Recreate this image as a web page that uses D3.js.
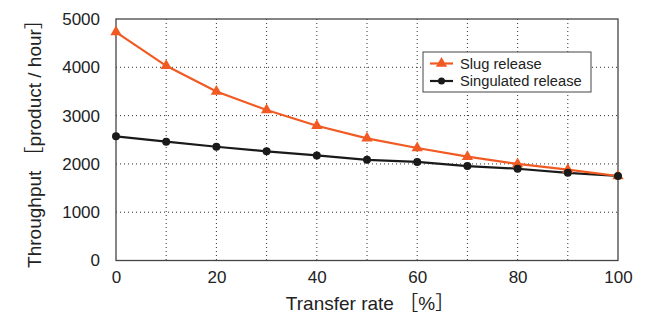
<!DOCTYPE html>
<html>
<head>
<meta charset="utf-8">
<script src="https://cdn.jsdelivr.net/npm/d3@7"></script>
<style>
  body { margin: 0; background: #fff; }
  svg { font-family: "Liberation Sans", Arial, sans-serif; }
</style>
</head>
<body>
<div id="chart"></div>
<script>
// data
var rates = [0, 10, 20, 30, 40, 50, 60, 70, 80, 90, 100];
var slug = [4730, 4030, 3500, 3115, 2790, 2530, 2330, 2150, 2000, 1880, 1750];
var singulated = [2570, 2460, 2355, 2260, 2175, 2085, 2040, 1955, 1900, 1815, 1750];
var xTicks = [0, 20, 40, 60, 80, 100];
var yTicks = [0, 1000, 2000, 3000, 4000, 5000];
var seriesNames = ['Slug release', 'Singulated release'];

var W = 661, H = 315;
var pad = {left: 116, right: 43, top: 19, bottom: 54.5};
var orange = '#f15a22', dark = '#1a1a1a';

var svg = d3.select('#chart').append('svg').attr('width', W).attr('height', H);
var g = svg.append('g').attr('transform', 'translate(' + pad.left + ',' + pad.top + ')');
var iw = W - pad.left - pad.right, ih = H - pad.top - pad.bottom;

var x = d3.scaleLinear().domain([0, 100]).range([0, iw]);
var y = d3.scaleLinear().domain([0, 5000]).range([ih, 0]);

// dotted grid
g.append('g').selectAll('line').data(d3.range(10, 100, 10)).join('line')
  .attr('x1', d => x(d)).attr('x2', d => x(d)).attr('y1', 0).attr('y2', ih)
  .attr('stroke', '#333').attr('stroke-width', 1).attr('stroke-dasharray', '1,3');
g.append('g').selectAll('line').data([1000, 2000, 3000, 4000]).join('line')
  .attr('x1', 0).attr('x2', iw).attr('y1', d => y(d)).attr('y2', d => y(d))
  .attr('stroke', '#333').attr('stroke-width', 1).attr('stroke-dasharray', '1,3');

// frame
g.append('rect').attr('width', iw).attr('height', ih)
  .attr('fill', 'none').attr('stroke', '#444').attr('stroke-width', 1.3);

// axes
var xAxis = g.append('g').attr('transform', 'translate(0,' + ih + ')')
  .call(d3.axisBottom(x).tickValues(xTicks).tickFormat(d3.format('d')).tickSize(0).tickPadding(10));
var yAxis = g.append('g')
  .call(d3.axisLeft(y).tickValues(yTicks).tickFormat(d3.format('d')).tickSize(0).tickPadding(16));
[xAxis, yAxis].forEach(function(a){
  a.select('.domain').remove();
  a.selectAll('text').attr('font-size', 17).attr('fill', '#222')
    .attr('font-family', '"Liberation Sans", Arial, sans-serif');
});

// lines
var line = d3.line().x((d, i) => x(rates[i])).y(d => y(d));
g.append('path').datum(singulated).attr('d', line)
  .attr('fill', 'none').attr('stroke', dark).attr('stroke-width', 2.2);
g.append('path').datum(slug).attr('d', line)
  .attr('fill', 'none').attr('stroke', orange).attr('stroke-width', 2.2);

var tri = d3.symbol().type(d3.symbolTriangle).size(55);
g.append('g').selectAll('path').data(slug).join('path')
  .attr('d', tri).attr('fill', orange)
  .attr('transform', (d, i) => 'translate(' + x(rates[i]) + ',' + y(d) + ')');
g.append('g').selectAll('circle').data(singulated).join('circle')
  .attr('cx', (d, i) => x(rates[i])).attr('cy', d => y(d)).attr('r', 4).attr('fill', dark);

// legend
var lg = g.append('g').attr('transform', 'translate(' + (423 - pad.left) + ',' + (52 - pad.top) + ')');
lg.append('rect').attr('width', 168).attr('height', 40)
  .attr('fill', '#fff').attr('stroke', '#444').attr('stroke-width', 1);
[orange, dark].forEach(function(c, i){
  var yy = 11.5 + i * 17.5;
  lg.append('line').attr('x1', 7).attr('x2', 30).attr('y1', yy).attr('y2', yy)
    .attr('stroke', c).attr('stroke-width', 2.2);
  if (i === 0) lg.append('path').attr('d', tri).attr('fill', c).attr('transform', 'translate(18.5,' + yy + ')');
  else lg.append('circle').attr('cx', 18.5).attr('cy', yy).attr('r', 3.5).attr('fill', c);
  lg.append('text').attr('x', 37).attr('y', yy + 5).attr('font-size', 14.7).attr('fill', '#222')
    .text(seriesNames[i]);
});

// axis titles
svg.append('text').attr('x', 370).attr('y', 310).attr('text-anchor', 'middle')
  .attr('font-size', 19).attr('fill', '#222')
  .html('Transfer rate <tspan font-family="Noto Sans CJK JP">\uFF3B</tspan>%<tspan font-family="Noto Sans CJK JP">\uFF3D</tspan>');
svg.append('text').attr('transform', 'translate(41,' + 139 + ') rotate(-90)')
  .attr('text-anchor', 'middle').attr('font-size', 19).attr('fill', '#222')
  .html('Throughput <tspan font-family="Noto Sans CJK JP">\uFF3B</tspan>product / hour<tspan font-family="Noto Sans CJK JP">\uFF3D</tspan>');
</script>
</body>
</html>
